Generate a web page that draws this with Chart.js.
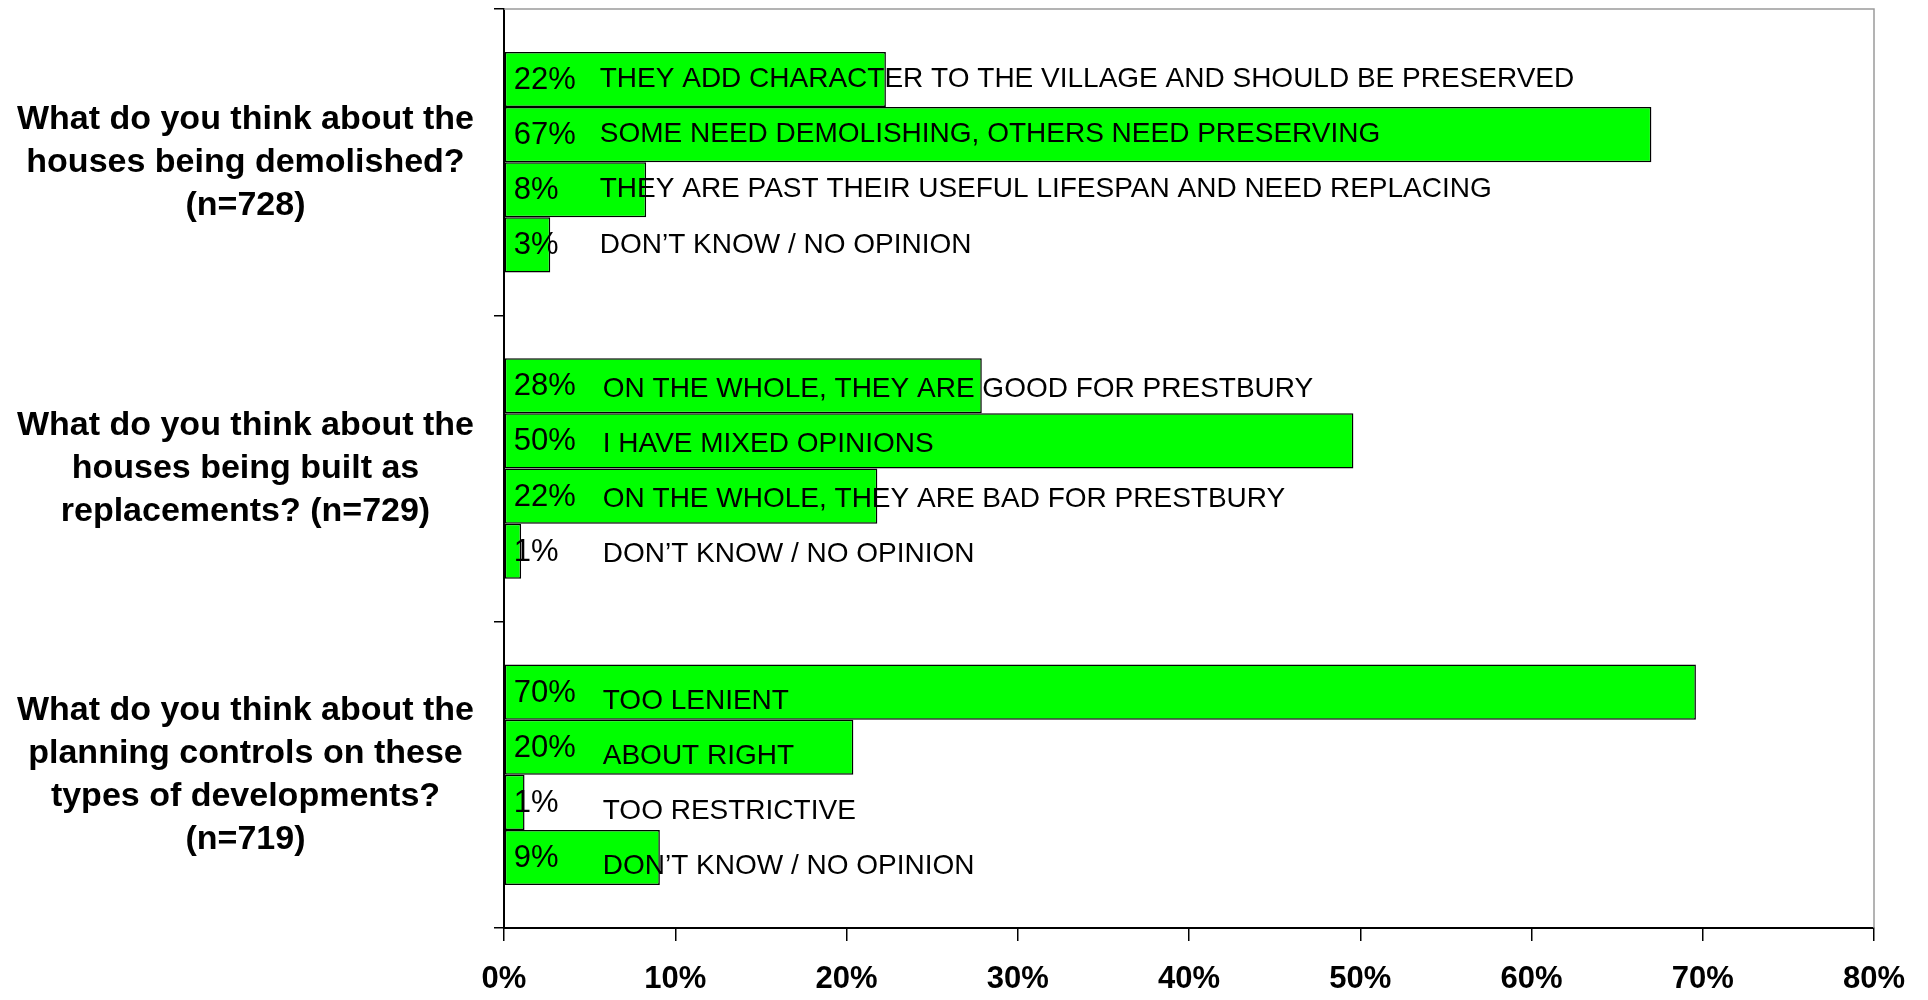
<!DOCTYPE html>
<html><head><meta charset="utf-8">
<script src="https://cdn.jsdelivr.net/npm/chart.js@4.4.1/dist/chart.umd.min.js"></script>
<style>html,body{margin:0;padding:0;background:#fff;} canvas{display:block;}</style>
</head><body>
<canvas id="c" width="1928" height="1000"></canvas>
<script>
const questions = [
  ['What do you think about the', 'houses being demolished?', '(n=728)'],
  ['What do you think about the', 'houses being built as', 'replacements? (n=729)'],
  ['What do you think about the', 'planning controls on these', 'types of developments?', '(n=719)']
];
const answer1Values = [22.3, 27.9, 69.6];
const answer2Values = [67.0, 49.6, 20.4];
const answer3Values = [8.3, 21.8, 1.2];
const answer4Values = [2.7, 1.0, 9.1];
const answer1Texts = ['THEY ADD CHARACTER TO THE VILLAGE AND SHOULD BE PRESERVED', 'ON THE WHOLE, THEY ARE GOOD FOR PRESTBURY', 'TOO LENIENT'];
const answer2Texts = ['SOME NEED DEMOLISHING, OTHERS NEED PRESERVING', 'I HAVE MIXED OPINIONS', 'ABOUT RIGHT'];
const answer3Texts = ['THEY ARE PAST THEIR USEFUL LIFESPAN AND NEED REPLACING', 'ON THE WHOLE, THEY ARE BAD FOR PRESTBURY', 'TOO RESTRICTIVE'];
const answer4Texts = ['DON\u2019T KNOW / NO OPINION', 'DON\u2019T KNOW / NO OPINION', 'DON\u2019T KNOW / NO OPINION'];
const xMin = 0, xMax = 80, xStep = 10;

const FONT = '"Liberation Sans", Arial, sans-serif';
Chart.defaults.font.family = FONT;
Chart.defaults.color = '#000';

const labelPlugin = {
  id: 'barLabels',
  afterDatasetsDraw(chart) {
    const ctx = chart.ctx;
    ctx.save();
    ctx.fillStyle = '#000';
    ctx.textBaseline = 'middle';
    ctx.textAlign = 'left';
    chart.data.datasets.forEach((ds, d) => {
      const meta = chart.getDatasetMeta(d);
      meta.data.forEach((bar, i) => {
        const p = bar.getProps(['x', 'y', 'base'], true);
        ctx.font = '31px ' + FONT;
        ctx.fillText(Math.round(ds.data[i]) + '%', p.base + 9, p.y + 1);
        ctx.font = '28px ' + FONT;
        ctx.fillText(ds.answers[i], p.base + (i === 0 ? 95 : 98), p.y + [0, 3, 9][i]);
      });
    });
    ctx.restore();
  }
};

const framePlugin = {
  id: 'frame',
  beforeDatasetsDraw(chart) {
    const { ctx, chartArea: a } = chart;
    ctx.save();
    ctx.strokeStyle = '#9a9a9a';
    ctx.lineWidth = 1.5;
    ctx.beginPath();
    ctx.moveTo(a.left, a.top);
    ctx.lineTo(a.right, a.top);
    ctx.lineTo(a.right, a.bottom);
    ctx.stroke();
    ctx.restore();
  }
};

const barStyle = { backgroundColor: '#00ff00', borderColor: '#000', borderWidth: 1.5, borderSkipped: false };

new Chart(document.getElementById('c'), {
  type: 'bar',
  data: {
    labels: questions,
    datasets: [
      Object.assign({ data: answer1Values, answers: answer1Texts }, barStyle),
      Object.assign({ data: answer2Values, answers: answer2Texts }, barStyle),
      Object.assign({ data: answer3Values, answers: answer3Texts }, barStyle),
      Object.assign({ data: answer4Values, answers: answer4Texts }, barStyle)
    ]
  },
  options: {
    indexAxis: 'y',
    responsive: false,
    animation: false,
    devicePixelRatio: 1,
    categoryPercentage: 0.72,
    barPercentage: 1.0,
    layout: { padding: { top: 9, right: 54, bottom: 0, left: 0 } },
    plugins: { legend: { display: false }, tooltip: { enabled: false } },
    scales: {
      x: {
        min: xMin, max: xMax,
        grid: { drawOnChartArea: false, tickLength: 13, color: '#000', lineWidth: 1.5 },
        border: { color: '#000', width: 2 },
        ticks: { stepSize: xStep, padding: 20, font: { size: 31, weight: 'bold' }, color: '#000',
          callback: v => v + '%' },
        afterFit: s => { s.height = 72; s.paddingLeft = 0; s.paddingRight = 0; }
      },
      y: {
        grid: { drawOnChartArea: false, tickLength: 10, color: '#000', lineWidth: 1.5, offset: true },
        border: { color: '#000', width: 2 },
        ticks: { crossAlign: 'center', padding: 20, font: { size: 34, weight: 'bold', lineHeight: 1.265 }, color: '#000' },
        afterFit: s => { s.width = 504; s.paddingTop = 0; s.paddingBottom = 0; }
      }
    }
  },
  plugins: [framePlugin, labelPlugin]
});
</script>
</body></html>
